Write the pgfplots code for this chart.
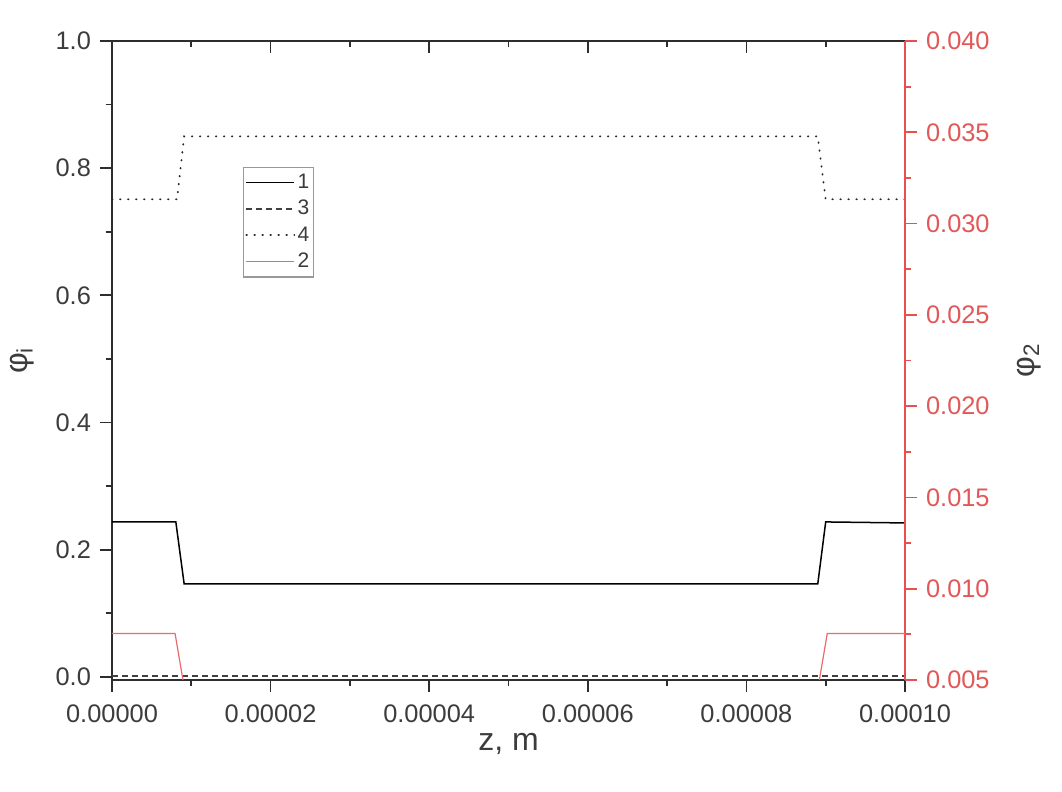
\documentclass[border=0pt]{standalone}
\usepackage{pgfplots}
\pgfplotsset{compat=1.18}
\usepackage{fontspec}
\setmainfont{Liberation Sans}
\definecolor{txtgray}{RGB}{60,60,60}
\definecolor{axgray}{RGB}{45,45,45}
\definecolor{myred}{RGB}{232,80,80}
\definecolor{redtxt}{RGB}{226,88,88}
\begin{document}
\begin{tikzpicture}
\useasboundingbox (-56pt,-56pt) rectangle (475pt,340pt);
\pgfplotsset{
  common/.style={
    width=396.5pt, height=319.5pt, scale only axis,
    at={(0,0)}, anchor=south west,
    xmin=0, xmax=0.0001,
    xtick={0,0.00002,0.00004,0.00006,0.00008,0.0001},
    minor x tick num=1,
    scaled x ticks=false, scaled y ticks=false,
    major tick length=6pt, minor tick length=3pt,
    ticklabel style={font=\fontsize{12.7}{15}\selectfont, text=txtgray},
    /pgf/number format/assume math mode=true,
    clip mode=individual,
  }
}
% main axis: left + bottom
\begin{axis}[common,
  ymin=-0.005, ymax=1.0,
  axis x line*=bottom, axis y line*=left,
  tick align=outside,
  x axis line style={axgray, line width=1pt},
  y axis line style={axgray, line width=1pt},
  every tick/.style={axgray, line width=0.9pt},
  ytick={0,0.2,0.4,0.6,0.8,1.0},
  minor y tick num=1,
  xticklabel style={yshift=-3pt, /pgf/number format/.cd, fixed, fixed zerofill, precision=5, 1000 sep={}},
  yticklabel style={xshift=-1pt, /pgf/number format/.cd, fixed, fixed zerofill, precision=1},
  xlabel={z, m},
  xlabel style={at={(axis description cs:0.5,-0.1)}, anchor=center, font=\fontsize{16}{19}\selectfont, text=txtgray},
  ylabel={φ\textsubscript{i}},
  ylabel style={at={(axis description cs:-0.1135,0.5)}, anchor=center, rotate=0, font=\fontsize{16}{19}\selectfont, text=txtgray},
]
\addplot[black, line width=0.75pt] coordinates {
(0,0.2436) (0.00000805,0.2436) (0.0000091,0.146) (0.0000890,0.146) (0.0000900,0.2436) (0.0001,0.242)};
\addplot[black!75, line width=0.9pt, dash pattern=on 3pt off 2pt] coordinates {
(0,0.0008) (0.0001,0.0008)};
\addplot[black!85, line width=0.9pt, line cap=round, dash pattern=on 0.3pt off 3.7pt] coordinates {
(0,0.751) (0.0000082,0.751) (0.0000091,0.850) (0.0000890,0.850) (0.0000900,0.751) (0.0001,0.751)};
\end{axis}
% top axis with inward ticks
\begin{axis}[common,
  ymin=0, ymax=1,
  axis x line*=top, hide y axis,
  tick align=inside,
  xticklabels={},
  x axis line style={axgray, line width=1pt},
  every tick/.style={axgray, line width=0.9pt},
]
\end{axis}
% right red axis
\begin{axis}[common,
  ymin=0.005, ymax=0.040,
  hide x axis,
  axis y line*=right,
  tick align=outside,
  y axis line style={myred, line width=1pt},
  every tick/.style={myred, line width=0.9pt},
  ytick={0.005,0.010,0.015,0.020,0.025,0.030,0.035,0.040},
  minor y tick num=1,
  yticklabel style={text=redtxt, xshift=1pt, /pgf/number format/.cd, fixed, fixed zerofill, precision=3},
  ylabel={φ\textsubscript{2}},
  ylabel style={at={(axis description cs:1.156,0.5)}, anchor=center, rotate=0, font=\fontsize{16}{19}\selectfont, text=txtgray},
  legend image code/.code={\draw[#1] (0pt,0pt) -- (24pt,0pt);},
  legend style={at={(axis description cs:0.165,0.803)}, anchor=north west,
    draw=gray!80, line width=0.6pt, fill=white,
    font=\fontsize{10.5}{12}\selectfont, text=txtgray,
    inner xsep=1pt, inner ysep=2pt, row sep=2pt,
    nodes={inner sep=1.2pt}},
  legend cell align=left,
]
\addlegendimage{black, line width=0.75pt}
\addlegendentry{1}
\addlegendimage{black!75, line width=0.9pt, dash pattern=on 3pt off 2pt}
\addlegendentry{3}
\addlegendimage{black!85, line width=0.9pt, line cap=round, dash pattern=on 0.3pt off 3.7pt}
\addlegendentry{4}
\addplot[myred!85, line width=0.6pt] coordinates {
(0,0.00755) (0.00000795,0.00755) (0.00000895,0.005) (0.0000090,0.0040) (0.0000891,0.0040) (0.0000892,0.005) (0.0000902,0.00755) (0.0001,0.00755)};
\addlegendentry{2}
\end{axis}
\end{tikzpicture}
\end{document}
